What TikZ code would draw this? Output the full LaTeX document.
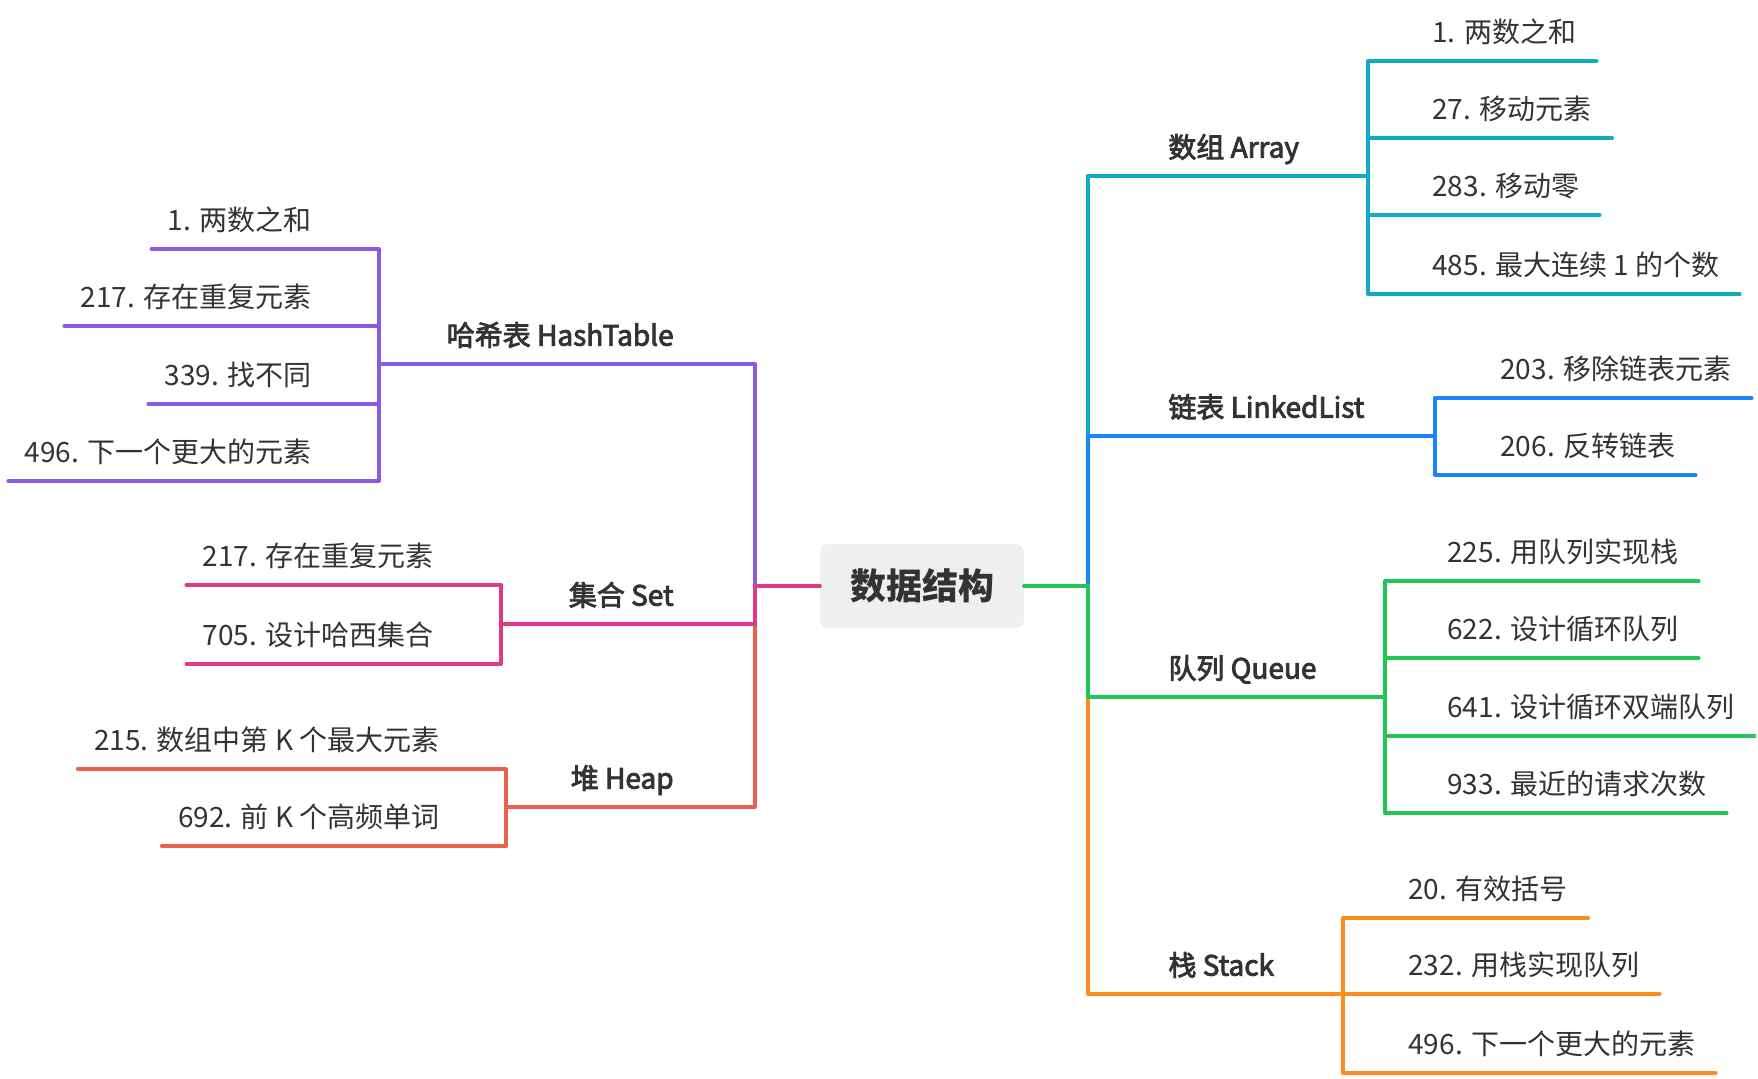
\documentclass[tikz,border=0pt]{standalone}
\usepackage{fontspec}
\setmainfont{Noto Sans CJK SC}
\newfontfamily\topicfont{Noto Sans CJK SC}[FakeBold=3]
\usepackage{tikz}
\definecolor{textgray}{RGB}{51,51,51}
\definecolor{boxgray}{RGB}{238,239,239}
\definecolor{arrcol}{RGB}{18,172,194}
\definecolor{lnkcol}{RGB}{26,133,250}
\definecolor{quecol}{RGB}{32,199,84}
\definecolor{stkcol}{RGB}{253,140,30}
\definecolor{hashcol}{RGB}{141,89,226}
\definecolor{setcol}{RGB}{224,57,137}
\definecolor{heapcol}{RGB}{238,96,78}

\begin{document}
\begin{tikzpicture}[x=0.5pt, y=-0.5pt,
  leaf/.style={inner sep=0pt, text depth=9pt, text=textgray, font=\fontsize{14}{16}\selectfont},
  leafR/.style={leaf, anchor=south west},
  leafL/.style={leaf, anchor=south east},
  topicR/.style={leafR, font=\fontsize{14}{16}\topicfont},
  topicL/.style={leafL, font=\fontsize{14}{16}\topicfont},
  branch/.style={line width=2pt, line cap=round, line join=round},
  tipR/.style={branch, shorten >=-10pt},
  tipL/.style={branch, shorten >=-8pt}]
\useasboundingbox (0,0) rectangle (1758,1078);

% Data structures mind map
\node[fill=boxgray, rounded corners=4pt, minimum width=102pt, minimum height=42pt, inner sep=0pt,
  text=textgray, font=\fontsize{18}{20}\selectfont\bfseries] (root) at (922,586) {数据结构};
\coordinate (rtrunk) at (1088,586);
\coordinate (ltrunk) at (755,586);

% right side topics
\node[topicR] (arr) at (1168,176) {数组 Array};
\node[topicR] (lnk) at (1168,436) {链表 LinkedList};
\node[topicR] (que) at (1168,697) {队列 Queue};
\node[topicR] (stk) at (1168,994) {栈 Stack};
\coordinate (arrJ) at (1368,176);
\coordinate (lnkJ) at (1435,436);
\coordinate (queJ) at (1385,697);
\coordinate (stkJ) at (1343,994);

% left side topics
\node[topicL] (hash) at (674,364) {哈希表 HashTable};
\node[topicL] (set) at (674,624) {集合 Set};
\node[topicL] (heap) at (674,807) {堆 Heap};
\coordinate (hashJ) at (379,364);
\coordinate (setJ) at (501,624);
\coordinate (heapJ) at (506,807);

% leaves
\node[leafR] (a1) at (1432,61) {1. 两数之和};
\node[leafR] (a2) at (1432,138) {27. 移动元素};
\node[leafR] (a3) at (1432,215) {283. 移动零};
\node[leafR] (a4) at (1432,294) {485. 最大连续 1 的个数};
\node[leafR] (l1) at (1500,398) {203. 移除链表元素};
\node[leafR] (l2) at (1500,475) {206. 反转链表};
\node[leafR] (q1) at (1447,581) {225. 用队列实现栈};
\node[leafR] (q2) at (1447,658) {622. 设计循环队列};
\node[leafR] (q3) at (1447,736) {641. 设计循环双端队列};
\node[leafR] (q4) at (1447,813) {933. 最近的请求次数};
\node[leafR] (s1) at (1408,918) {20. 有效括号};
\node[leafR] (s2) at (1408,994) {232. 用栈实现队列};
\node[leafR] (s3) at (1408,1073) {496. 下一个更大的元素};

\node[leafL] (h1) at (312,249) {1. 两数之和};
\node[leafL] (h2) at (312,326) {217. 存在重复元素};
\node[leafL] (h3) at (312,404) {339. 找不同};
\node[leafL] (h4) at (312,481) {496. 下一个更大的元素};
\node[leafL] (e1) at (434,585) {217. 存在重复元素};
\node[leafL] (e2) at (434,664) {705. 设计哈西集合};
\node[leafL] (p1) at (440,769) {215. 数组中第 K 个最大元素};
\node[leafL] (p2) at (440,846) {692. 前 K 个高频单词};

% right branches
\draw[branch, arrcol] (root.east) -- (rtrunk) |- (arrJ);
\foreach \n in {a1,a2,a3,a4} \draw[tipR, arrcol] (arrJ) |- (\n.south east);
\draw[branch, lnkcol] (root.east) -- (rtrunk) |- (lnkJ);
\foreach \n in {l1,l2} \draw[tipR, lnkcol] (lnkJ) |- (\n.south east);
\draw[branch, stkcol] (root.east) -- (rtrunk) |- (stkJ);
\foreach \n in {s1,s2,s3} \draw[tipR, stkcol] (stkJ) |- (\n.south east);
\draw[branch, quecol] (root.east) -- (rtrunk) |- (queJ);
\foreach \n in {q1,q2,q3,q4} \draw[tipR, quecol] (queJ) |- (\n.south east);

% left branches
\draw[branch, hashcol] (root.west) -- (ltrunk) |- (hashJ);
\foreach \n in {h1,h2,h3,h4} \draw[tipL, hashcol] (hashJ) |- (\n.south west);
\draw[branch, heapcol] (root.west) -- (ltrunk) |- (heapJ);
\foreach \n in {p1,p2} \draw[tipL, heapcol] (heapJ) |- (\n.south west);
\draw[branch, setcol] (root.west) -- (ltrunk) |- (setJ);
\foreach \n in {e1,e2} \draw[tipL, setcol] (setJ) |- (\n.south west);
\end{tikzpicture}
\end{document}
